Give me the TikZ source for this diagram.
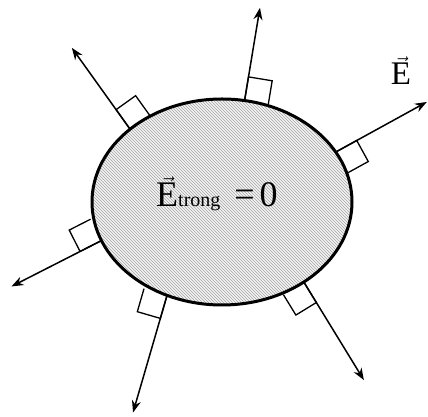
\documentclass[tikz,border=0pt]{standalone}
\usepackage{fontspec}
\setmainfont{Liberation Serif}
\usetikzlibrary{arrows.meta}

\tikzset{
  field/.style={line width=1.5pt,-{Stealth[length=12pt,width=9pt]}},
  rightangle/.style={line width=1.3pt},
  hatch/.style={gray!60,line width=0.8pt},
}

\begin{document}
\begin{tikzpicture}[x=1pt,y=1pt]
  \useasboundingbox (0,0) rectangle (428,417);
  % field lines, normal to the surface
  \foreach \t/\a/\l in {80/80.6/94, 135/125.6/100, 29/28.8/104,
                        202/207/101, 245/253.8/122, 309/301.5/115}{
    \coordinate (foot) at ({222+130*cos(\t)},{215+103*sin(\t)});
    \draw[field] (foot) -- ++(\a:\l) coordinate (tip);
    \draw[rightangle] (foot) -- ++(\a:24) -- ++({\a-90}:24) -- ++({\a+180}:24);
  }
  % conductor
  \begin{scope}
    \clip (222,215) ellipse [x radius=130,y radius=103];
    \fill[white] (80,100) rectangle (370,330);
    \foreach \c in {200,203,...,680}
      \draw[hatch] (\c-90,90) -- (\c-330,330);
  \end{scope}
  \draw[line width=3pt] (222,215) ellipse [x radius=130,y radius=103];
  \node[anchor=base west,inner sep=0pt] (inside) at (156,210)
    {\fontsize{36}{40}\selectfont$\vec{\hbox{E}}$\fontsize{20}{22}\selectfont trong\hspace{14pt}\fontsize{36}{40}\selectfont=\hspace{5pt}0};
  \node[anchor=base,inner sep=0pt] (outside) at (401,332)
    {\fontsize{33}{38}\selectfont$\vec{\hbox{E}}$};
\end{tikzpicture}
\end{document}
